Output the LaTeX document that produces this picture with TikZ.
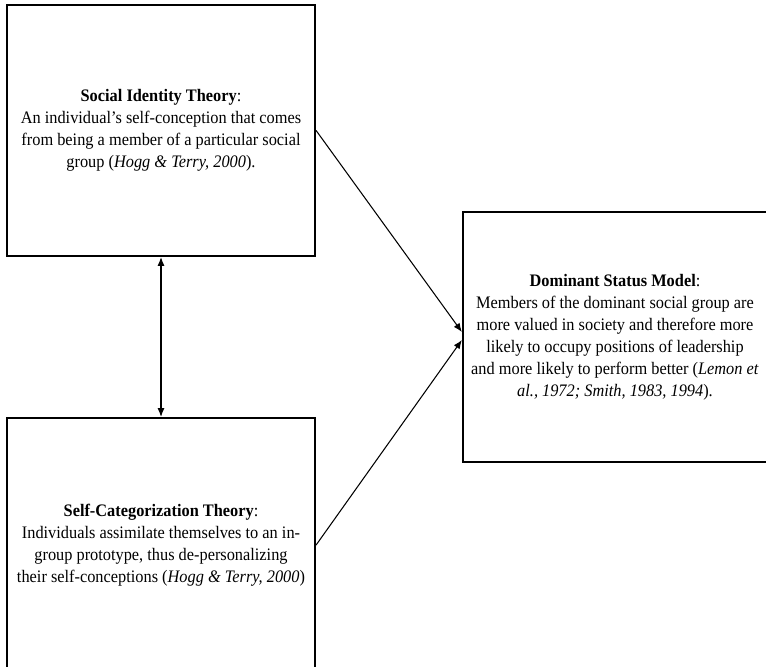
\documentclass[tikz,border=0pt]{standalone}
\usepackage{fontspec}
\setmainfont{Liberation Serif}[FakeStretch=0.93]
\usetikzlibrary{arrows.meta,calc}
\tikzset{>={Latex[length=5pt,width=4pt]}}
\tikzset{
    theory/.style={rectangle,draw,line width=1.3pt,align=center,inner sep=0pt,font=\fontsize{10}{12.5}\selectfont},
    link/.style={line width=0.6pt},
}

\begin{document}
\begin{tikzpicture}[x=0.02cm,y=-0.02cm]
        \useasboundingbox (0,0) rectangle (766,666);
        \clip (0,0) rectangle (766,666);
        \node[theory,minimum width=6.16cm,minimum height=5.02cm] (sit) at (161,130.5)
            {\textbf{Social Identity Theory}:\\An individual's self-conception that comes\\from being a member of a particular social\\group (\textit{Hogg \& Terry, 2000}).};
        \node[theory,minimum width=6.16cm,minimum height=5.08cm] (sct) at (161,545)
            {\textbf{Self-Categorization Theory}:\\Individuals assimilate themselves to an in-\\group prototype, thus de-personalizing\\their self-conceptions (\textit{Hogg \& Terry, 2000})};
        \node[theory,minimum width=6.08cm,minimum height=5cm] (dsm) at (615,337)
            {\textbf{Dominant Status Model}:\\Members of the dominant social group are\\more valued in society and therefore more\\likely to occupy positions of leadership\\and more likely to perform better (\textit{Lemon et}\\\textit{al., 1972; Smith, 1983, 1994}).};

        \draw[link,<->] (sit) -- (sct);
        \draw[link,->] (sit.east) -- ($(dsm.west)+(0,-5)$);
        \draw[link,->] (sct.east) -- ($(dsm.west)+(0,3)$);
\end{tikzpicture}
\end{document}
